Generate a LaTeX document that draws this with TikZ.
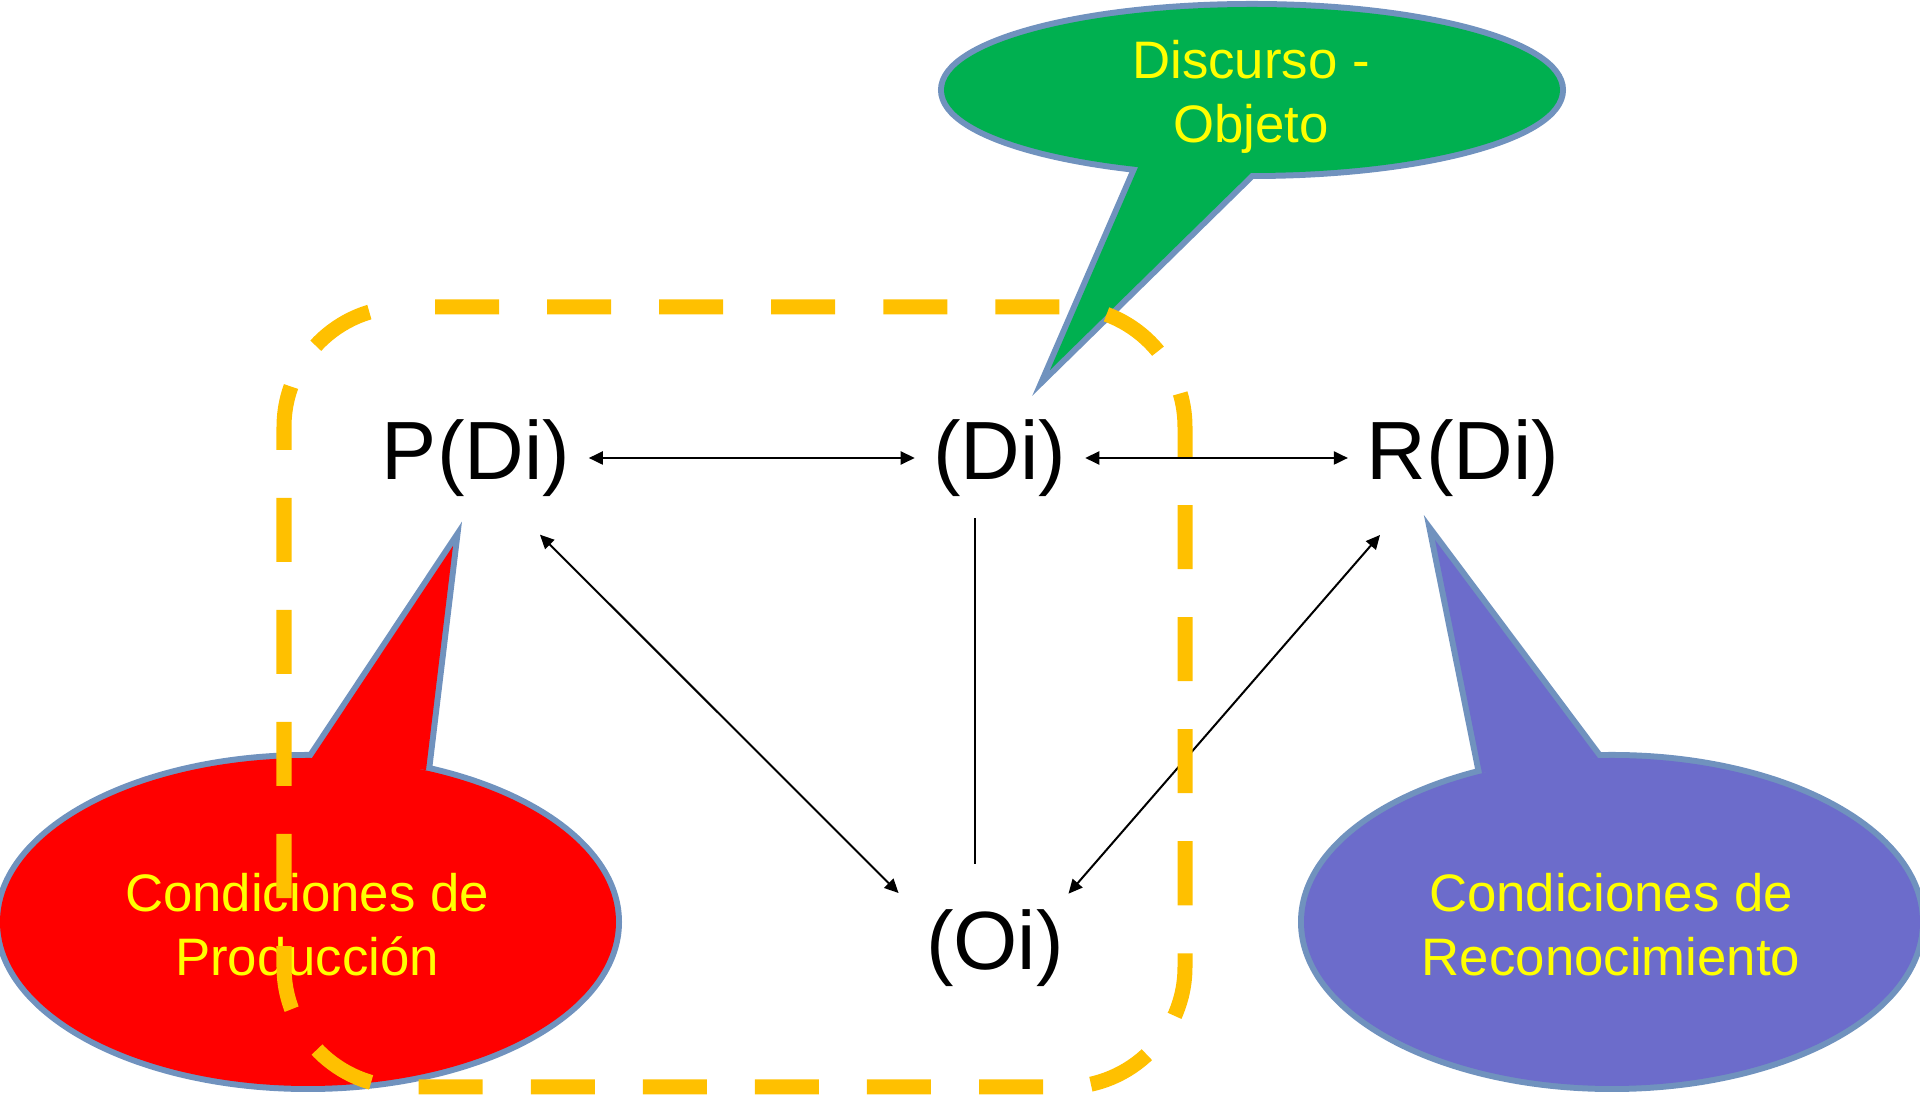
\documentclass[tikz,border=0pt]{standalone}
\usepackage{fontspec}
\setmainfont{Liberation Sans}
\usetikzlibrary{arrows.meta}

\definecolor{dashorange}{RGB}{255,192,0}
\definecolor{bubbleline}{RGB}{112,146,190}
\definecolor{objgreen}{RGB}{0,176,80}
\definecolor{prodred}{RGB}{255,0,0}
\definecolor{recpurple}{RGB}{108,108,203}
\definecolor{labelyellow}{RGB}{255,255,0}

\begin{document}
\begin{tikzpicture}[x=0.01cm,y=-0.01cm,
  >={Triangle[length=0.14cm,width=0.13cm]},
  term/.style={inner sep=0pt,font=\fontsize{23.5}{28}\selectfont},
  bubbletext/.style={inner sep=0pt,align=center,text=labelyellow,
    font=\fontsize{15}{18.2}\selectfont},
  bubbleedge/.style={draw=bubbleline,line width=0.12cm},
  link/.style={line width=0.02cm,shorten >=0.18cm,shorten <=0.18cm},
  dashframe/.style={draw=dashorange,line width=0.15cm,
    dash pattern=on 0.64cm off 0.48cm,rounded corners=1.2cm}]

\useasboundingbox (0,0) rectangle (1920,1095);

% Discurso - Objeto
\draw[bubbleedge] (1252,90) ellipse [x radius=308,y radius=83];
\draw[bubbleedge] (1139,165) -- (1050,370) -- (1251,173) -- cycle;
\fill[objgreen] (1252,90) ellipse [x radius=308,y radius=83];
\fill[objgreen] (1139,165) -- (1050,370) -- (1251,173) -- cycle;
\node[bubbletext] (obj) at (1251,97) {Discurso -\\Objeto};

% Condiciones de Produccion
\draw[bubbleedge] (308,922) ellipse [x radius=308,y radius=164];
\draw[bubbleedge] (312,758) -- (453,546) -- (426,770) -- cycle;
\fill[prodred] (308,922) ellipse [x radius=308,y radius=164];
\fill[prodred] (312,758) -- (453,546) -- (426,770) -- cycle;
\node[bubbletext] (prod) at (307,925) {Condiciones de\\Producción};

% Condiciones de Reconocimiento
\draw[bubbleedge] (1612,922) ellipse [x radius=308,y radius=164];
\draw[bubbleedge] (1482,773) -- (1435,540) -- (1598,758) -- cycle;
\fill[recpurple] (1612,922) ellipse [x radius=308,y radius=164];
\fill[recpurple] (1482,773) -- (1435,540) -- (1598,758) -- cycle;
\node[bubbletext] (rec) at (1611,925) {Condiciones de\\Reconocimiento};

\node[term] (P) at (476,458) {P(Di)};
\node[term] (D) at (1000,458) {(Di)};
\node[term] (R) at (1463,458) {R(Di)};
\node[term] (O) at (995,948) {(Oi)};

\draw[link,<->] (P.east) -- (D.west);
\draw[link,<->] (D.east) -- (R.west);
\draw[link,<->,shorten <=0.53cm,shorten >=0.38cm] (P.-56.4) -- (O.158.7);
\draw[link,<->,shorten <=0.5cm,shorten >=0.2cm] (R.218.6) -- (O.33);
\draw[link,shorten <=0.21cm,shorten >=0.45cm] (D.237.1) -- (D.237.1 |- O.north);

\draw[dashframe] (435,307) -- (1185,307) -- (1185,1087) -- (284,1087)
  -- (284,307) -- (392,307);

\end{tikzpicture}
\end{document}
